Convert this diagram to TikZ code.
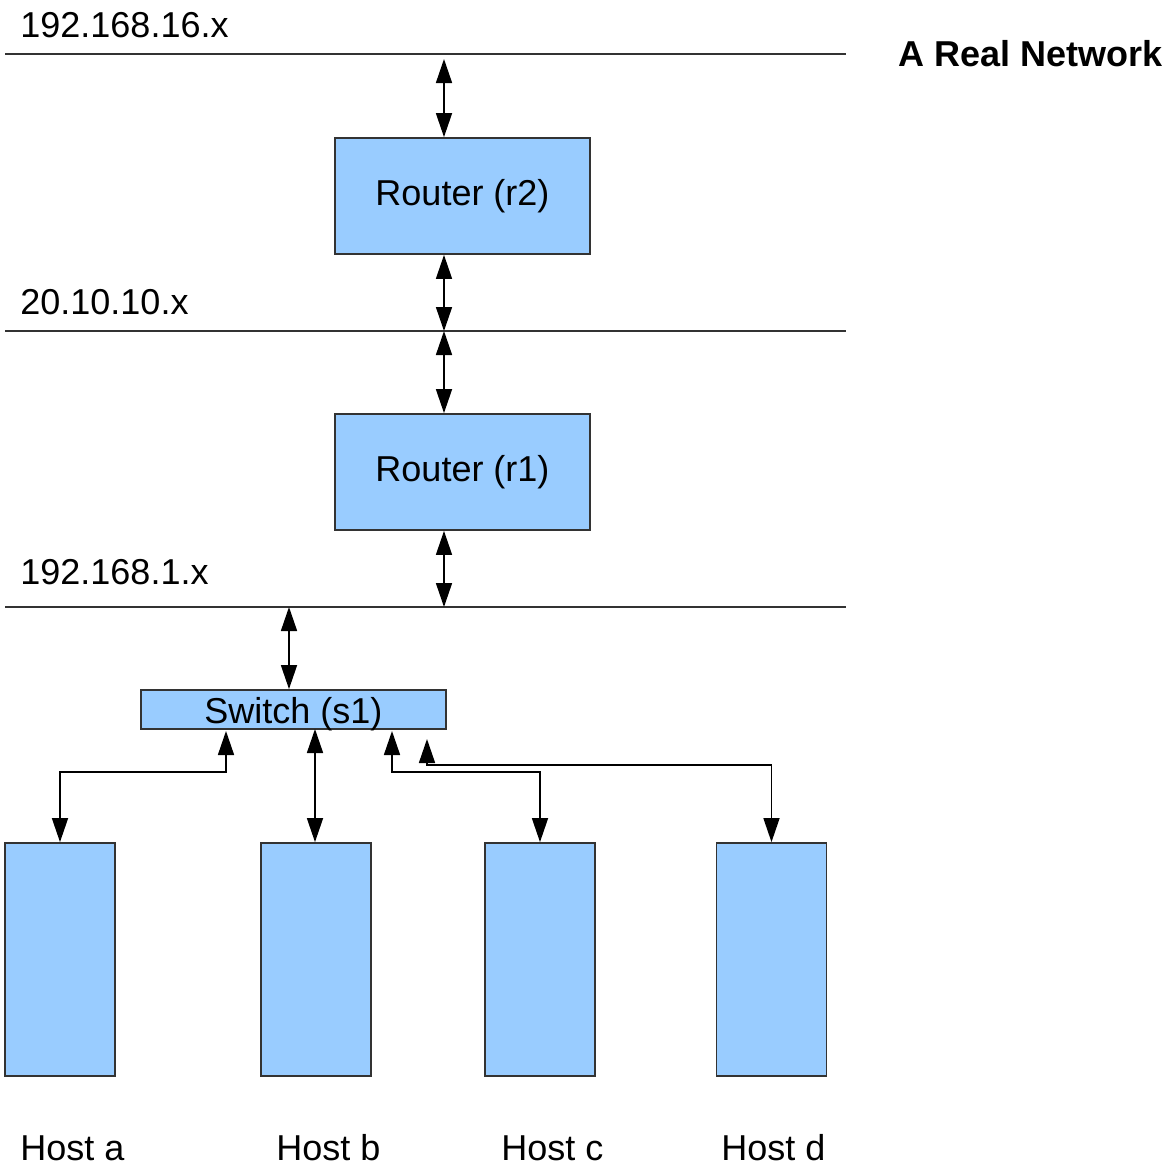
\documentclass[tikz,border=0pt]{standalone}
\usepackage{fontspec}
\setmainfont{Liberation Sans}
\usetikzlibrary{arrows.meta}
\definecolor{boxblue}{HTML}{99CCFF}
\definecolor{edge}{HTML}{333333}
\begin{document}
\begin{tikzpicture}[x=0.5pt,y=-0.5pt,
  box/.style={draw=edge,line width=0.9pt,fill=boxblue,inner sep=0pt,font=\fontsize{18}{20}\selectfont},
  netline/.style={draw=edge,line width=0.8pt},
  lbl/.style={inner sep=0pt,anchor=base west,font=\fontsize{18}{20}\selectfont},
  link/.style={line width=0.8pt,{Triangle[length=12pt,width=8pt]}-{Triangle[length=12pt,width=8pt]}}]
\useasboundingbox (0,0) rectangle (1175,1169);

% network segments
\draw[netline] (5,54) -- (846,54);
\draw[netline] (5,331) -- (846,331);
\draw[netline] (5,607) -- (846,607);
\node[lbl] (n16) at (20,37) {192.168.16.x};
\node[lbl] (n20) at (20,314) {20.10.10.x};
\node[lbl] (n1) at (20,584) {192.168.1.x};
\node[lbl,font=\fontsize{18}{20}\selectfont\bfseries] (title) at (898,66) {A Real Network};

% taps on the segments
\coordinate (t16) at (444,59);
\coordinate (t20) at (444,331);
\coordinate (t1) at (444,607);
\coordinate (ts) at (289,607);

% routers and switch
\node[box,minimum width=127.5pt,minimum height=58pt] (r2) at (462.5,196) {\raisebox{-2pt}{Router (r2)}};
\node[box,minimum width=127.5pt,minimum height=58pt] (r1) at (462.5,472) {\raisebox{-2pt}{Router (r1)}};
\node[box,minimum width=152.5pt,minimum height=19.5pt] (s1) at (293.5,709.5) {};
\node[lbl] (s1t) at (204,723) {Switch (s1)};

% hosts
\node[box,minimum width=55pt,minimum height=116.5pt] (ha) at (60,959.5) {};
\node[box,minimum width=55pt,minimum height=116.5pt] (hb) at (316,959.5) {};
\node[box,minimum width=55pt,minimum height=116.5pt] (hc) at (540,959.5) {};
\node[box,minimum width=55pt,minimum height=116.5pt] (hd) at (771.5,959.5) {};
\node[lbl] (la) at (20,1160) {Host a};
\node[lbl] (lb) at (276,1160) {Host b};
\node[lbl] (lc) at (501,1160) {Host c};
\node[lbl] (ld) at (721,1160) {Host d};

% router links
\draw[link] (t16) -- (r2.north -| t16);
\draw[link] (r2.south -| t20) -- (t20);
\draw[link] (t20) -- (r1.north -| t20);
\draw[link] (r1.south -| t1) -- (t1);
\draw[link] (ts) -- (s1.north -| ts);

% switch ports
\coordinate (pa) at (226,731);
\coordinate (pb) at (315,729);
\coordinate (pc) at (392,731);
\coordinate (pd) at (427,739);
\draw[link] (pa) -- (226,772) -- (60,772) -- (ha.north);
\draw[link] (pb) -- (ha.north -| pb);
\draw[link] (pc) -- (392,772) -- (540,772) -- (hc.north);
\draw[link] (pd) -- (427,765) -- (771.5,765) -- (hd.north);
\end{tikzpicture}
\end{document}
